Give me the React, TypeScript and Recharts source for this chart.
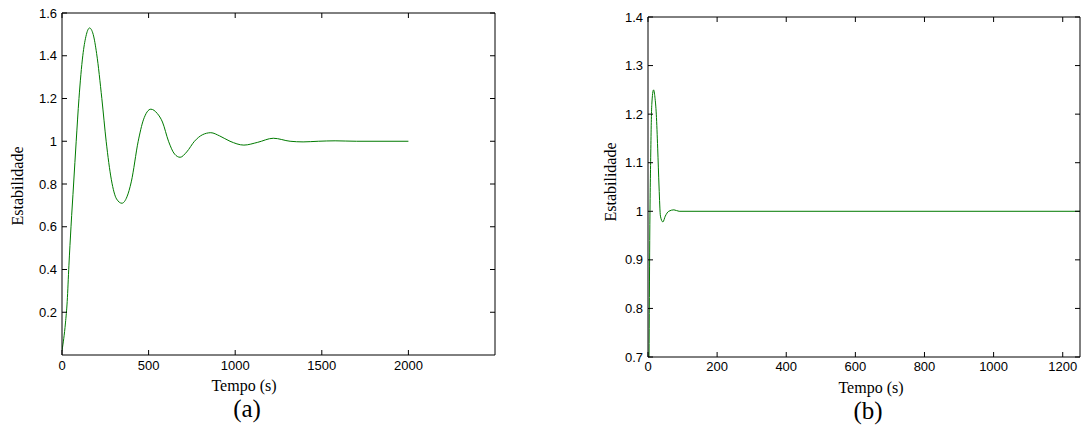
import React from 'react';
import { LineChart, Line, XAxis, YAxis } from 'recharts';

// (a) slow controller, time in s
const timeA = [0, 20, 30, 40, 52, 67, 82, 98, 120, 138, 159, 180, 200, 230, 255, 285, 315, 346, 375, 400, 440, 470, 513, 550, 580, 615, 650, 682, 720, 765, 810, 859, 910, 970, 1050, 1130, 1220, 1317, 1392, 1480, 1577, 1700, 2000];
const valueA = [0.02, 0.15, 0.25, 0.42, 0.6, 0.8, 1.0, 1.2, 1.4, 1.49, 1.53, 1.5, 1.41, 1.2, 1.0, 0.82, 0.73, 0.71, 0.74, 0.81, 1.0, 1.1, 1.15, 1.13, 1.09, 1.0, 0.94, 0.925, 0.95, 1.0, 1.03, 1.04, 1.025, 1.0, 0.982, 0.995, 1.014, 1.0, 0.997, 1.0, 1.002, 1.0, 1.0];

// (b) fast controller
const timeB = [0, 3, 5, 8, 11, 16, 20, 24, 28, 32, 36, 43, 50, 60, 75, 90, 1250];
const valueB = [0.45, 0.7, 0.94, 1.12, 1.22, 1.25, 1.235, 1.2, 1.13, 1.05, 0.99, 0.978, 0.99, 1.0, 1.003, 1.0, 1.0];

const ticksAX = [0, 500, 1000, 1500, 2000];
const ticksAY = [0.2, 0.4, 0.6, 0.8, 1, 1.2, 1.4, 1.6];
const ticksBX = [0, 200, 400, 600, 800, 1000, 1200];
const ticksBY = [0.7, 0.8, 0.9, 1, 1.1, 1.2, 1.3, 1.4];

const dataA = timeA.map((t, i) => ({ t, v: valueA[i] }));
const dataB = timeB.map((t, i) => ({ t, v: valueB[i] }));

const tickFont = { fontSize: 13, fontFamily: 'Liberation Sans', fill: '#000' };
const serif = '"Liberation Serif", "Times New Roman", serif';

interface PanelProps {
  left: number;
  width: number;
  top: number;
  yWidth: number;
  xHeight: number;
  right: number;
  data: { t: number; v: number }[];
  xDomain: [number, number];
  yDomain: [number, number];
  xTicks: number[];
  yTicks: number[];
  xTickMargin: number;
}

// top/right axes only give the box and the inner ticks (matlab style)
const Panel: React.FC<PanelProps> = (p) => (
  <div style={{ position: 'absolute', left: p.left, top: 0 }}>
    <LineChart width={p.width} height={430} data={p.data} margin={{ top: p.top - 1, right: p.right - 1, bottom: 0, left: 0 }}>
      <XAxis
        xAxisId="bottom"
        dataKey="t"
        type="number"
        domain={p.xDomain}
        ticks={p.xTicks}
        interval={0}
        height={p.xHeight}
        tickSize={-5}
        tickMargin={p.xTickMargin}
        tick={tickFont}
        stroke="#000"
        allowDataOverflow
      />
      <XAxis
        xAxisId="top"
        orientation="top"
        dataKey="t"
        type="number"
        domain={p.xDomain}
        ticks={p.xTicks}
        interval={0}
        height={1}
        tickSize={-5}
        tickFormatter={() => ''}
        stroke="#000"
        allowDataOverflow
      />
      <YAxis
        yAxisId="left"
        type="number"
        domain={p.yDomain}
        ticks={p.yTicks}
        interval={0}
        width={p.yWidth}
        tickSize={-5}
        tickMargin={10}
        tick={tickFont}
        stroke="#000"
        allowDataOverflow
      />
      <YAxis
        yAxisId="right"
        orientation="right"
        type="number"
        domain={p.yDomain}
        ticks={p.yTicks}
        interval={0}
        width={1}
        tickSize={-5}
        tickFormatter={() => ''}
        stroke="#000"
        allowDataOverflow
      />
      <Line
        xAxisId="bottom"
        yAxisId="left"
        type="monotone"
        dataKey="v"
        stroke="#007a00"
        strokeWidth={1}
        dot={false}
        isAnimationActive={false}
      />
    </LineChart>
  </div>
);

const Text: React.FC<{ x: number; y: number; size: number; rotate?: boolean; children: React.ReactNode }> = ({ x, y, size, rotate, children }) => (
  <div
    style={{
      position: 'absolute',
      left: x,
      top: y,
      transform: `translate(-50%, -50%)${rotate ? ' rotate(-90deg)' : ''}`,
      fontFamily: serif,
      fontSize: size,
      lineHeight: 1,
      whiteSpace: 'nowrap',
      color: '#000',
    }}
  >
    {children}
  </div>
);

export default function App() {
  return (
    <div style={{ position: 'absolute', left: 0, top: 0, width: 1081, height: 430, background: '#fff', overflow: 'hidden' }}>
      <Panel
        left={0}
        width={520}
        top={13}
        yWidth={62}
        xHeight={75}
        right={25}
        data={dataA}
        xDomain={[0, 2500]}
        yDomain={[0, 1.6]}
        xTicks={ticksAX}
        yTicks={ticksAY}
        xTickMargin={11}
      />
      <Panel
        left={580}
        width={501}
        top={17}
        yWidth={68}
        xHeight={73}
        right={1}
        data={dataB}
        xDomain={[0, 1250]}
        yDomain={[0.7, 1.4]}
        xTicks={ticksBX}
        yTicks={ticksBY}
        xTickMargin={10}
      />
      <Text x={18} y={186} size={16} rotate>Estabilidade</Text>
      <Text x={244} y={386} size={16}>Tempo (s)</Text>
      <Text x={247} y={408} size={25}>(a)</Text>
      <Text x={611} y={182} size={16} rotate>Estabilidade</Text>
      <Text x={871} y={388} size={16}>Tempo (s)</Text>
      <Text x={868} y={410} size={25}>(b)</Text>
    </div>
  );
}
